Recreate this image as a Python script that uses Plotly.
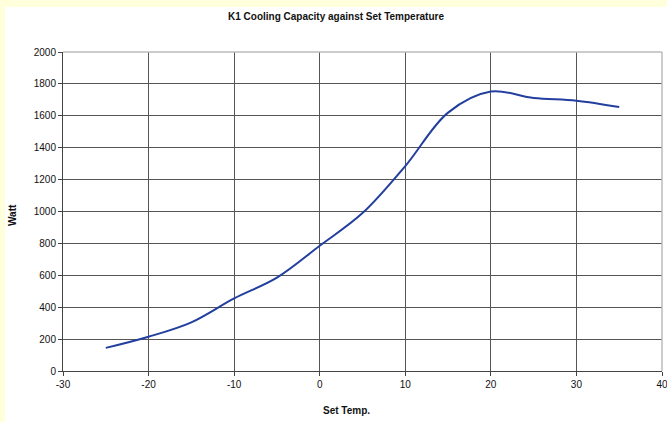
import plotly.graph_objects as go

temps = [-25, -20, -15, -10, -5, 0, 5, 10, 15, 20, 25, 30, 35]
watts = [145, 215, 305, 455, 585, 785, 990, 1285, 1620, 1752, 1712, 1695, 1655]

x_ticks = [-30, -20, -10, 0, 10, 20, 30, 40]
y_ticks = [0, 200, 400, 600, 800, 1000, 1200, 1400, 1600, 1800, 2000]

W, H = 667, 422
L, R, T, B = 63, 5, 52, 51
pw, ph = W - L - R, H - T - B

def px_x(px):
    return (px - L) / pw

def px_y(py):
    return (H - B - py) / ph

fig = go.Figure()
fig.add_trace(go.Scatter(
    x=temps, y=watts, mode="lines",
    line=dict(color="#233f9e", width=2, shape="spline", smoothing=1.0),
    hoverinfo="skip", showlegend=False,
))

tf = dict(family="Liberation Sans, Arial, sans-serif", size=10, color="#111111")

fig.update_layout(
    width=W, height=H,
    margin=dict(l=L, r=R, t=T, b=B, pad=0, autoexpand=False),
    paper_bgcolor="#ffffdc",
    plot_bgcolor="white",
    font=tf,
    xaxis=dict(
        range=[-30, 40], tickvals=x_ticks, ticktext=[str(v) for v in x_ticks],
        showgrid=True, gridcolor="#555555", gridwidth=1,
        zeroline=False, showline=True, linecolor="#444444", linewidth=1,
        ticks="outside", ticklen=4, tickcolor="#444444", fixedrange=True, tickfont=tf,
        ticklabeloverflow="allow", automargin=False,
    ),
    yaxis=dict(
        range=[0, 2000], tickvals=y_ticks, ticktext=[str(v) for v in y_ticks],
        showgrid=True, gridcolor="#555555", gridwidth=1,
        zeroline=False, showline=True, linecolor="#444444", linewidth=1,
        ticks="outside", ticklen=4, tickcolor="#444444", fixedrange=True, tickfont=tf,
        ticklabeloverflow="allow", automargin=False,
    ),
    shapes=[
        dict(type="rect", xref="paper", yref="paper",
             x0=px_x(5), x1=px_x(W + 2), y0=px_y(H + 2), y1=px_y(7),
             fillcolor="white", line=dict(width=0), layer="below"),
        dict(type="line", xref="paper", yref="paper", x0=0, x1=1, y0=1, y1=1,
             line=dict(color="#bbbbbb", width=1.5), layer="above"),
        dict(type="line", xref="paper", yref="paper", x0=1, x1=1, y0=0, y1=1,
             line=dict(color="#bbbbbb", width=1.5), layer="above"),
    ],
    annotations=[
        dict(text="<b>K1 Cooling Capacity against Set Temperature</b>", xref="paper", yref="paper",
             x=px_x(336), y=px_y(17), showarrow=False, xanchor="center", yanchor="middle", font=tf),
        dict(text="<b>Set Temp.</b>", xref="paper", yref="paper",
             x=px_x(346), y=px_y(410), showarrow=False, xanchor="center", yanchor="middle", font=tf),
        dict(text="<b>Watt</b>", xref="paper", yref="paper", textangle=-90,
             x=px_x(12), y=px_y(215), showarrow=False, xanchor="center", yanchor="middle", font=tf),
    ],
)

fig.write_html("out.html", config={"displayModeBar": False},
               post_script="document.body.style.margin='0';document.body.style.overflow='hidden';")
